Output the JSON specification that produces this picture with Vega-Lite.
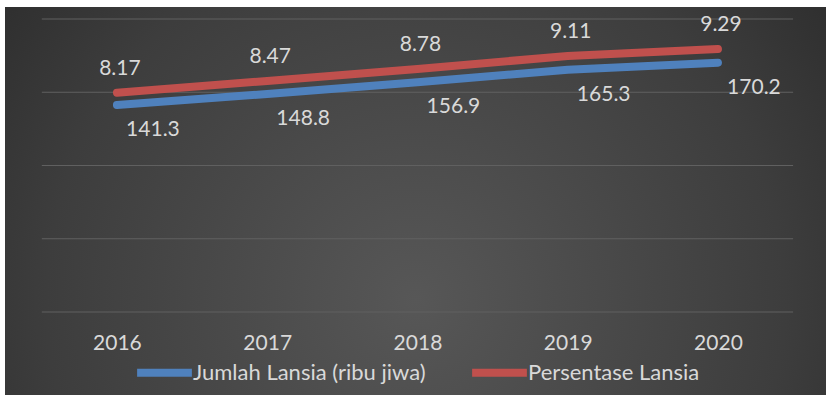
{
  "$schema": "https://vega.github.io/schema/vega-lite/v6.json",
  "width": 821,
  "height": 388,
  "autosize": {"type": "none"},
  "padding": {"left": 5, "top": 7, "right": 0, "bottom": 8},
  "background": "#ffffff",
  "config": {
    "view": {
      "stroke": null,
      "fill": {
        "gradient": "radial",
        "x1": 0.5, "y1": 0.62, "r1": 0,
        "x2": 0.5, "y2": 0.62, "r2": 0.75,
        "stops": [
          {"offset": 0, "color": "#575757"},
          {"offset": 0.6, "color": "#3d3d3d"},
          {"offset": 1, "color": "#242424"}
        ]
      }
    },
    "font": "Lato"
  },
  "datasets": {
    "main": [
      {"year": 2016, "jumlah": 141.3, "persen": 8.17},
      {"year": 2017, "jumlah": 148.8, "persen": 8.47},
      {"year": 2018, "jumlah": 156.9, "persen": 8.78},
      {"year": 2019, "jumlah": 165.3, "persen": 9.11},
      {"year": 2020, "jumlah": 170.2, "persen": 9.29}
    ],
    "grid": [{"g": 0}, {"g": 50}, {"g": 100}, {"g": 150}, {"g": 200}]
  },
  "layer": [
    {
      "layer": [
        {
          "data": {"name": "grid"},
          "mark": {"type": "rule", "stroke": "#606060", "strokeWidth": 1.2},
          "encoding": {
            "x": {"datum": 2015.5, "type": "quantitative", "scale": {"domain": [2015.255, 2020.719], "nice": false, "zero": false}},
            "x2": {"datum": 2020.5},
            "y": {"field": "g", "type": "quantitative", "axis": null, "scale": {"domain": [-56.66, 208.19], "nice": false, "zero": false}}
          }
        },
        {
          "data": {"name": "main"},
          "mark": {"type": "line", "strokeWidth": 8, "strokeCap": "round", "strokeJoin": "round"},
          "encoding": {
            "x": {
              "field": "year", "type": "quantitative",
              "scale": {"domain": [2015.255, 2020.719], "nice": false, "zero": false},
              "axis": {
                "values": [2016, 2017, 2018, 2019, 2020], "format": "d", "title": null,
                "grid": false, "domain": false, "ticks": false,
                "labelFont": "Lato", "labelFontSize": 21, "labelColor": "#d9d9d9",
                "offset": -63, "labelPadding": 0
              }
            },
            "y": {"field": "jumlah", "type": "quantitative", "axis": null, "scale": {"domain": [-56.66, 208.19], "nice": false, "zero": false}},
            "color": {
              "datum": "Jumlah Lansia (ribu jiwa)",
              "scale": {"domain": ["Jumlah Lansia (ribu jiwa)", "Persentase Lansia"], "range": ["#4F81BD", "#C0504D"]},
              "legend": {
                "orient": "none", "legendX": 128, "legendY": 334, "direction": "horizontal",
                "title": null, "symbolType": "stroke", "symbolSize": 3000, "symbolStrokeWidth": 8,
                "labelFont": "Lato", "labelFontSize": 22, "labelColor": "#d9d9d9", "labelLimit": 400,
                "labelOffset": -3, "columnPadding": 30
              }
            }
          }
        },
        {
          "data": {"name": "main"},
          "mark": {"type": "text", "dx": 36, "dy": 25, "fontSize": 21, "font": "Lato", "color": "#d9d9d9"},
          "encoding": {
            "x": {"field": "year", "type": "quantitative"},
            "y": {"field": "jumlah", "type": "quantitative"},
            "text": {"field": "jumlah", "type": "quantitative", "format": ".1f"}
          }
        }
      ]
    },
    {
      "data": {"name": "main"},
      "layer": [
        {
          "mark": {"type": "line", "strokeWidth": 8, "strokeCap": "round", "strokeJoin": "round"},
          "encoding": {
            "x": {"field": "year", "type": "quantitative"},
            "y": {"field": "persen", "type": "quantitative", "axis": null, "scale": {"domain": [0.423, 10.366], "nice": false, "zero": false}},
            "color": {"datum": "Persentase Lansia"}
          }
        },
        {
          "mark": {"type": "text", "dx": 3, "dy": -24, "fontSize": 21, "font": "Lato", "color": "#d9d9d9"},
          "encoding": {
            "x": {"field": "year", "type": "quantitative"},
            "y": {"field": "persen", "type": "quantitative"},
            "text": {"field": "persen", "type": "quantitative", "format": ".2f"}
          }
        }
      ]
    }
  ],
  "resolve": {"scale": {"y": "independent"}}
}
